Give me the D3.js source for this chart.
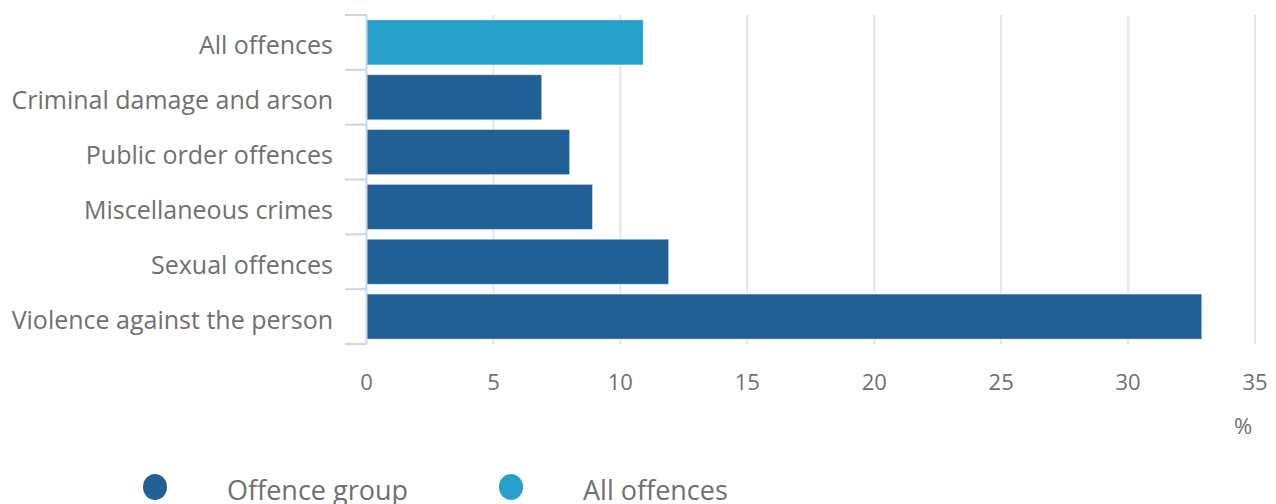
<!DOCTYPE html>
<html>
<head>
<meta charset="utf-8">
<script src="https://cdn.jsdelivr.net/npm/d3@7"></script>
<style>
  body { margin: 0; background: #fff; }
  svg { display: block; font-family: "Open Sans", sans-serif; }
</style>
</head>
<body>
<svg></svg>
<script>
const categories = ['All offences', 'Criminal damage and arson', 'Public order offences',
  'Miscellaneous crimes', 'Sexual offences', 'Violence against the person'];
const values = [10.9, 6.9, 8.0, 8.9, 11.9, 32.9];
const groups = ['All offences', 'Offence group', 'Offence group', 'Offence group', 'Offence group', 'Offence group'];
const xTicks = [0, 5, 10, 15, 20, 25, 30, 35];
const legendItems = ['Offence group', 'All offences'];

const [svgWidth, svgHeight] = [1276, 504];
const svg = d3.select('svg')
  .attr('width', svgWidth)
  .attr('height', svgHeight);

const colour = d3.scaleOrdinal()
  .domain(legendItems)
  .range(['#206095', '#27a0cc']);
const textColour = '#707070';

const x = d3.scaleLinear()
  .domain([0, 35])
  .range([366.5, 1255]);
const y = d3.scaleBand()
  .domain(categories)
  .range([15, 344])
  .paddingInner(0.18)
  .paddingOuter(0.09);

// grid lines
svg.append('g')
  .selectAll('line')
  .data(xTicks.slice(1))
  .join('line')
  .attr('x1', d => x(d))
  .attr('x2', d => x(d))
  .attr('y1', 15)
  .attr('y2', 344)
  .attr('stroke', '#e6e6e6')
  .attr('stroke-width', 2);

// bars
const data = categories.map((c, i) => ({cat: c, val: values[i], group: groups[i]}));
svg.append('g')
  .selectAll('rect')
  .data(data)
  .join('rect')
  .attr('x', x(0))
  .attr('y', d => y(d.cat))
  .attr('width', d => x(d.val) - x(0))
  .attr('height', y.bandwidth())
  .attr('fill', d => colour(d.group))
  .attr('stroke', 'rgba(255,255,255,0.35)')
  .attr('stroke-width', 1);

// y axis line and category ticks
const step = y.step();
const yAxis = svg.append('g');
yAxis.append('line')
  .attr('x1', 366.5).attr('x2', 366.5)
  .attr('y1', 15).attr('y2', 344)
  .attr('stroke', '#ccd6eb')
  .attr('stroke-width', 2);
yAxis.selectAll('line.tick')
  .data(d3.range(categories.length + 1))
  .join('line')
  .classed('tick', true)
  .attr('x1', 345).attr('x2', 367)
  .attr('y1', i => 15 + i * step)
  .attr('y2', i => 15 + i * step)
  .attr('stroke', '#ccd6eb')
  .attr('stroke-width', 2);
yAxis.selectAll('text')
  .data(categories)
  .join('text')
  .attr('x', 333)
  .attr('y', d => y(d) + y.bandwidth() / 2)
  .attr('dy', '0.48em')
  .attr('text-anchor', 'end')
  .attr('fill', textColour)
  .style('font-size', '25px')
  .text(d => d);

// x tick labels
svg.append('g')
  .selectAll('text')
  .data(xTicks)
  .join('text')
  .attr('x', d => x(d))
  .attr('y', 390)
  .attr('text-anchor', 'middle')
  .attr('fill', textColour)
  .style('font-size', '22px')
  .text(d => d);

svg.append('text')
  .attr('x', 1243)
  .attr('y', 434)
  .attr('text-anchor', 'middle')
  .attr('fill', textColour)
  .style('font-size', '22px')
  .text('%');

// legend
const legend = svg.append('g')
  .selectAll('g')
  .data(legendItems)
  .join('g')
  .attr('transform', (d, i) => `translate(${155 + i * 356}, 487)`);
legend.append('ellipse')
  .attr('rx', 12)
  .attr('ry', 13)
  .attr('fill', d => colour(d));
legend.append('text')
  .attr('x', 72)
  .attr('y', 13)
  .attr('fill', textColour)
  .style('font-size', '27px')
  .text(d => d);
</script>
</body>
</html>
